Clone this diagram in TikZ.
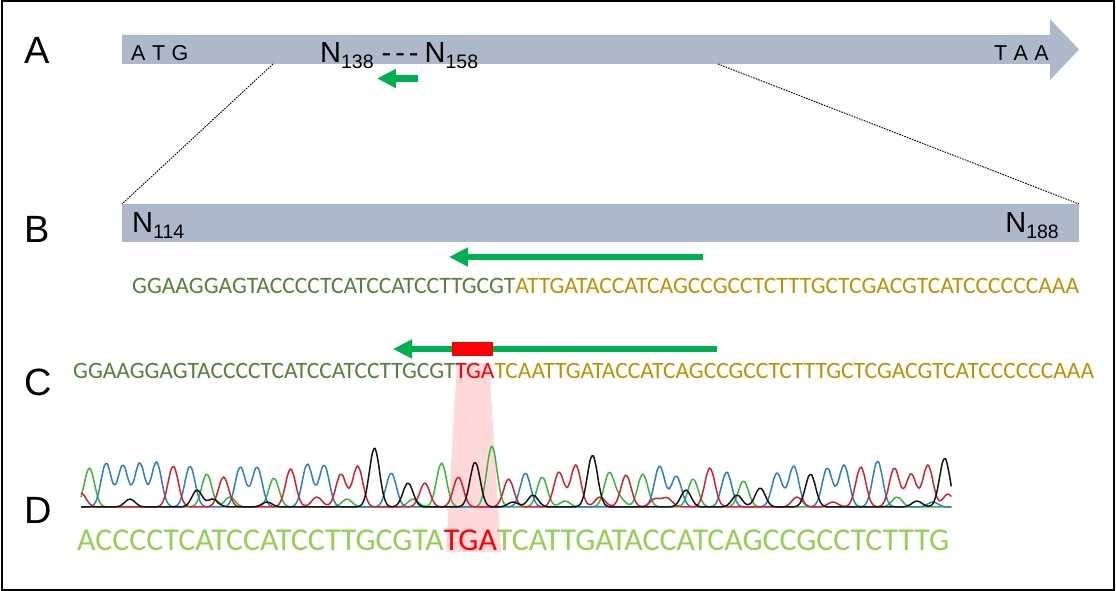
\documentclass[tikz,border=0pt]{standalone}
\usepackage{fontspec}
\setmainfont{Liberation Sans}
\newfontfamily\seqfont{Carlito}
\usetikzlibrary{arrows.meta}
\definecolor{barc}{HTML}{ADB9CA}
\definecolor{arrg}{HTML}{00B050}
\definecolor{seqg}{HTML}{538135}
\definecolor{seqo}{HTML}{BF9000}
\definecolor{seqd}{HTML}{92D050}
\definecolor{redc}{HTML}{FF0000}
\definecolor{pinkc}{HTML}{FFD9D9}
\definecolor{tblue}{HTML}{2A80C4}
\definecolor{tgreen}{HTML}{36B936}
\definecolor{tred}{HTML}{D42035}
\definecolor{tblack}{HTML}{151515}
\newcommand\addpeaks[3]{%
  \foreach \cc/\hh in {#3}{%
    \pgfmathsetmacro\ccc{\cc+#2}%
    \xdef#1{\unexpanded\expandafter{#1}+\hh*exp(-5.5*(\noexpand\x-\ccc)*(\noexpand\x-\ccc))}%
  }}
\gdef\tA{0}\gdef\tC{0}\gdef\tT{0}\gdef\tG{0}
\addpeaks\tA{0.5}{0/39,7/33,11/29,21/44,24/61,27/30,31/34,33/33,36/28,39/26}
\addpeaks\tA{0}{8.88/10,15.86/8,19.80/8,28.86/6,32.14/8,48.66/10}
\addpeaks\tC{0.5}{1/44,2/42,3/44,4/45,6/41,9/40,10/40,13/43,14/42,18/34,26/34,34/41,35/31,38/35,41/34,42/41,44/39,45/42,47/46}
\addpeaks\tC{0}{50.8/5}
\addpeaks\tT{0.5}{5/41,8/30,12/38,15/33,16/41,20/24,22/30,25/28,28/35,29/42,32/32,37/39,46/40,48/39,49/33,50/42}
\addpeaks\tT{0}{0/14,14.07/10,30.95/10,34.23/8,34.94/9,42.70/10,44.84/5,51.7/13}
\addpeaks\tG{0.5}{17/59,19/24,23/45,30/52,40/19,43/33,51/49}
\addpeaks\tG{0}{2.92/8,6.92/17,7.87/8,11.09/5,25.76/5,26.95/12,36.07/17,39.12/12,49.85/6}
\tikzset{
  panel/.style={font=\fontsize{38}{40}\selectfont, inner sep=0pt, anchor=base west},
  codon/.style={font=\fontsize{21.5}{22}\selectfont, inner sep=0pt},
  nlab/.style={font=\fontsize{29}{30}\selectfont, inner sep=0pt},
  seq/.style={inner sep=0pt, anchor=base west},
  garrow/.style={draw=arrg, line width=6.5pt, -{Triangle[length=19pt,width=18pt]}},
  zoomline/.style={draw=black, line width=0.9pt, dash pattern=on 1.6pt off 1.1pt},
  trace/.style={line width=1.5pt, line join=round},
}
\newcommand\sub[1]{\raisebox{-6.5pt}{\fontsize{19.5}{20}\selectfont #1}}
\newcommand\gap{\hspace{6.5pt}}
\begin{document}
\begin{tikzpicture}[x=1pt,y=-1pt]
\useasboundingbox (0,0) rectangle (1116,591);
\draw[line width=2pt] (1.5,1.5) rectangle (1114,589.5);
% panel labels
\node[panel] (la) at (24,64) {A};
\node[panel] (lb) at (24,242) {B};
\node[panel] (lc) at (24,395) {C};
\node[panel] (ld) at (24,523) {D};
% A: gene arrow
\fill[barc] (122,35) -- (1050,35) -- (1050,19) -- (1079,49.5) -- (1050,80) -- (1050,64) -- (122,64) -- cycle;
\node[codon, anchor=base west] (atg) at (131,61) {A\gap T\gap G};
\node[codon, anchor=base east] (taa) at (1049,61) {T\gap A\gap A};
\node[nlab, anchor=base west] (n138) at (320,62.5) {N\sub{138}\hspace{8pt}-\hspace{4pt}-\hspace{4pt}-\hspace{6pt}N\sub{158}};
\coordinate (aa1) at (418,78.5);
\coordinate (aa2) at (377,78.5);
\draw[garrow] (aa1) -- (aa2);
% zoom lines
\coordinate (z1) at (273,64);
\coordinate (z2) at (718,64);
\coordinate (z3) at (122,204);
\coordinate (z4) at (1079,204);
\draw[zoomline] (z1) -- (z3);
\draw[zoomline] (z2) -- (z4);
% B bar
\fill[barc] (122,204) rectangle (1079,242);
\node[nlab, anchor=base west] (n114) at (132,232) {N\sub{114}};
\node[nlab, anchor=base east] (n188) at (1059,232) {N\sub{188}};
\coordinate (ba1) at (703,257);
\coordinate (ba2) at (449,257);
\draw[garrow] (ba1) -- (ba2);
\node[seq] (seqb) at (132,293) {\resizebox{947pt}{!}{\fontsize{23}{24}\seqfont\color{seqg}GGAAGGAGTACCCCTCATCCATCCTTGCGT\color{seqo}ATTGATACCATCAGCCGCCTCTTTGCTCGACGTCATCCCCCCAAA}};
% pink highlight
\fill[pinkc] (457,363) -- (489,363) -- (501,552) -- (446,552) -- cycle;
% C
\coordinate (ca1) at (717,349);
\coordinate (ca2) at (393,349);
\draw[garrow] (ca1) -- (ca2);
\fill[redc] (452,342) rectangle (493,356);
\node[seq] (seqc) at (73,378) {\resizebox{1021pt}{!}{\fontsize{23}{24}\seqfont\color{seqg}GGAAGGAGTACCCCTCATCCATCCTTGCGT\color{redc}TGA\color{seqo}TCAATTGATACCATCAGCCGCCTCTTTGCTCGACGTCATCCCCCCAAA}};
% D chromatogram
\draw[trace, tgreen] plot[domain=0:51.9, samples=300, smooth, variable=\x] ({81+16.77*\x}, {507-(\tA)});
\draw[trace, tblue] plot[domain=0:51.9, samples=300, smooth, variable=\x] ({81+16.77*\x}, {507-(\tC)});
\draw[trace, tred] plot[domain=0:51.9, samples=300, smooth, variable=\x] ({81+16.77*\x}, {507-(\tT)});
\draw[trace, tblack] plot[domain=0:51.9, samples=300, smooth, variable=\x] ({81+16.77*\x}, {507-(\tG)});
\node[seq] (seqd) at (77,550) {\resizebox{872pt}{!}{\fontsize{30}{31}\seqfont\color{seqd}ACCCCTCATCCATCCTTGCGTA\color{redc}TGA\color{seqd}TCATTGATACCATCAGCCGCCTCTTTG}};
\end{tikzpicture}
\end{document}
